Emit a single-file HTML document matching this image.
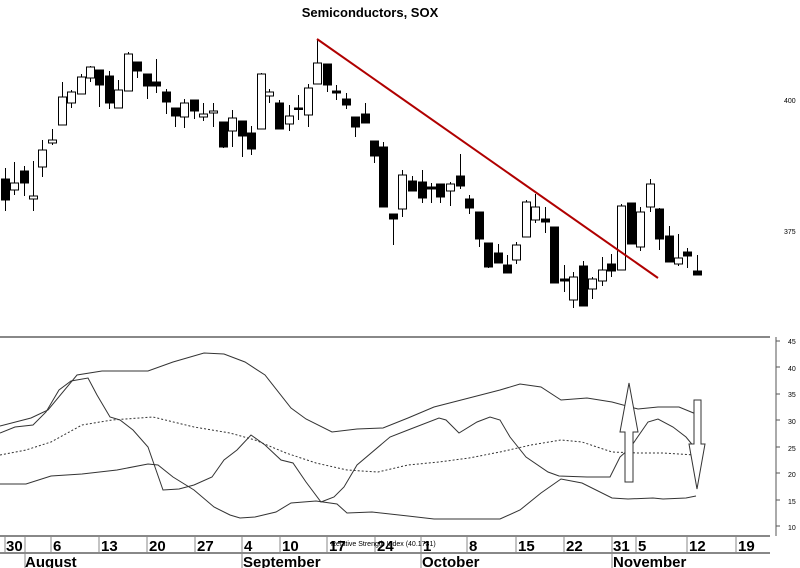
<!DOCTYPE html>
<html><head><meta charset="utf-8"><style>
html,body{margin:0;padding:0;background:#fff;width:800px;height:568px;overflow:hidden}
svg{display:block}
.d{font-family:"Liberation Sans Narrow","Liberation Sans",sans-serif;font-weight:bold;font-size:15px;fill:#000}
.m{font-family:"Liberation Sans","Liberation Sans Narrow",sans-serif;font-weight:bold;font-size:15px;fill:#000}
.s{font-family:"Liberation Sans",sans-serif;font-size:7px;fill:#000}
</style></head><body>
<svg width="800" height="568" viewBox="0 0 800 568" xmlns="http://www.w3.org/2000/svg">
<text x="370" y="17" text-anchor="middle" font-family="Liberation Sans,sans-serif" font-weight="bold" font-size="13">Semiconductors, SOX</text>
<text x="784" y="103" class="s" font-size="8">400</text>
<text x="784" y="234" class="s" font-size="8">375</text>
<g id="c" stroke="#000" stroke-width="1"></g>
<line x1="317" y1="39" x2="658" y2="278" stroke="#b00000" stroke-width="2"/>
<!-- lower panel -->
<line x1="0" y1="337" x2="770" y2="337" stroke="#888" stroke-width="2"/>
<line x1="776" y1="337" x2="776" y2="536" stroke="#555" stroke-width="1"/>
<g class="s">
<text x="788" y="344">45</text><text x="788" y="371">40</text><text x="788" y="397">35</text><text x="788" y="424">30</text><text x="788" y="451">25</text><text x="788" y="477">20</text><text x="788" y="504">15</text><text x="788" y="530">10</text>
</g>
<g stroke="#555" stroke-width="1">
<line x1="776" y1="341" x2="780" y2="341"/><line x1="776" y1="367" x2="780" y2="367"/><line x1="776" y1="394" x2="780" y2="394"/><line x1="776" y1="420" x2="780" y2="420"/><line x1="776" y1="447" x2="780" y2="447"/><line x1="776" y1="473" x2="780" y2="473"/><line x1="776" y1="500" x2="780" y2="500"/><line x1="776" y1="526" x2="780" y2="526"/>
</g>
<g fill="none" stroke="#333" stroke-width="1">
<polyline points="0,426 31,418 48,410 77,375 102,371 148,371 173,362 204,353 224,354 245,362 265,375 291,408 306,419 332,432 357,429 383,428 408,418 434,407 469,398 500,390 520,384 541,387 561,400 587,398 612,402 638,409 658,407 679,407 696,414"/>
<polyline points="0,433 15,427 33,425 46,412 59,390 71,381 88,378 97,395 110,417 120,420 133,430 148,447 163,490 179,489 194,485 212,477 224,460 237,450 251,435 265,445 281,460 293,463 306,482 321,502 334,497 344,487 357,465 390,437 408,430 439,418 446,420 459,433 477,422 490,417 500,420 510,437 526,457 548,472 559,476 587,477 610,477 620,457 630,448 648,422 658,419 673,427 686,437 695,448"/>
<polyline stroke-dasharray="2,2" points="0,455 26,450 51,442 82,425 112,420 153,417 194,427 230,433 255,440 286,453 316,463 347,470 378,472 408,465 439,462 469,458 500,452 531,445 561,440 582,442 612,452 638,453 663,453 696,455"/>
<polyline points="0,484 26,484 51,476 82,474 117,470 148,464 158,465 173,477 194,490 214,507 230,515 240,518 255,517 276,512 291,503 316,501 337,504 347,513 372,512 408,516 434,519 469,519 500,519 520,510 541,493 561,479 582,483 612,498 628,499 653,498 663,499 686,498 696,496"/>
</g>
<polygon points="625,482 633,482 633,432 638,432 629,383 620,432 625,432" fill="#fff" stroke="#333"/>
<polygon points="694,400 701,400 701,444 705,444 697,489 689,444 694,444" fill="#fff" stroke="#333"/>
<!-- date axis -->
<line x1="0" y1="536" x2="770" y2="536" stroke="#888" stroke-width="2"/>
<line x1="0" y1="553" x2="770" y2="553" stroke="#888" stroke-width="2"/>
<g stroke="#888" stroke-width="1">
<line x1="5" y1="536" x2="5" y2="553"/><line x1="25" y1="536" x2="25" y2="568"/><line x1="51" y1="536" x2="51" y2="553"/><line x1="99" y1="536" x2="99" y2="553"/><line x1="147" y1="536" x2="147" y2="553"/><line x1="195" y1="536" x2="195" y2="553"/><line x1="242" y1="536" x2="242" y2="568"/><line x1="280" y1="536" x2="280" y2="553"/><line x1="327" y1="536" x2="327" y2="553"/><line x1="375" y1="536" x2="375" y2="553"/><line x1="421" y1="536" x2="421" y2="568"/><line x1="467" y1="536" x2="467" y2="553"/><line x1="516" y1="536" x2="516" y2="553"/><line x1="564" y1="536" x2="564" y2="553"/><line x1="612" y1="536" x2="612" y2="568"/><line x1="636" y1="536" x2="636" y2="553"/><line x1="687" y1="536" x2="687" y2="553"/><line x1="736" y1="536" x2="736" y2="553"/>
</g>
<g class="d">
<text x="6" y="551">30</text><text x="53" y="551">6</text><text x="101" y="551">13</text><text x="149" y="551">20</text><text x="197" y="551">27</text><text x="244" y="551">4</text><text x="282" y="551">10</text><text x="329" y="551">17</text><text x="377" y="551">24</text><text x="423" y="551">1</text><text x="469" y="551">8</text><text x="518" y="551">15</text><text x="566" y="551">22</text><text x="613" y="551">31</text><text x="638" y="551">5</text><text x="689" y="551">12</text><text x="738" y="551">19</text>
</g>
<text x="331" y="546" class="s">Relative Strength Index (40.1731)</text>
<g class="m">
<text x="25" y="567">August</text><text x="243" y="567">September</text><text x="422" y="567">October</text><text x="613" y="567">November</text>
</g>
</svg>
<script>
var C=[[5,168,211,179,200,1],[14,162,195,183,190,0],[24,166,196,171,183,1],[33,161,211,196,199,0],[42,140,177,150,167,0],[52,129,145,140,143,0],[62,82,125,97,125,0],[71,90,108,92,103,0],[81,74,94,77,94,0],[90,66,82,67,78,0],[99,70,107,70,85,1],[109,71,109,76,103,1],[118,80,108,90,108,0],[128,52,91,54,91,0],[137,62,78,62,71,1],[147,74,99,74,86,1],[156,59,93,82,86,1],[166,89,114,92,102,1],[175,108,127,108,116,1],[184,99,128,103,117,0],[194,100,119,100,111,1],[203,103,121,114,117,0],[213,103,127,111,113,0],[223,122,148,122,147,1],[232,110,147,118,131,0],[242,121,157,121,136,1],[251,126,155,133,149,1],[261,73,129,74,129,0],[269,89,103,92,96,0],[279,100,129,103,129,1],[289,105,131,116,124,0],[298,95,120,108,109,1],[308,84,127,88,115,0],[317,39,84,63,84,0],[327,64,92,64,85,1],[336,85,100,91,93,1],[346,93,109,99,105,1],[355,117,137,117,127,1],[365,103,123,114,123,1],[374,141,163,141,156,1],[383,142,207,147,207,1],[393,214,245,214,219,1],[402,170,217,175,209,0],[412,176,191,181,191,1],[422,170,203,182,198,1],[431,183,203,187,189,1],[440,184,203,184,197,1],[450,182,206,184,191,0],[460,154,189,176,186,1],[469,195,214,199,208,1],[479,212,247,212,239,1],[488,243,268,243,267,1],[498,244,263,253,263,1],[507,255,273,265,273,1],[516,242,264,245,260,0],[526,200,237,202,237,0],[535,194,223,207,220,0],[545,207,233,219,222,1],[554,227,283,227,283,1],[564,265,292,279,281,1],[573,272,308,277,300,0],[583,261,306,266,306,1],[592,277,299,279,289,0],[602,257,286,270,281,0],[611,254,277,264,271,1],[621,204,270,206,270,0],[631,203,244,203,244,1],[640,207,251,212,247,0],[650,179,212,184,207,0],[659,208,250,209,239,1],[669,226,262,236,262,1],[678,234,266,258,264,0],[687,248,268,252,256,1],[697,255,275,271,275,1]];
var g=document.getElementById('c'),s='';
C.forEach(function(c){var x=c[0];s+='<line x1="'+(x+.5)+'" y1="'+c[1]+'" x2="'+(x+.5)+'" y2="'+c[2]+'"/>';
var h=Math.max(c[4]-c[3],1.5);s+='<rect x="'+(x-3.5)+'" y="'+c[3]+'" width="8" height="'+h+'" fill="'+(c[5]?'#000':'#fff')+'"/>';});
g.innerHTML=s;
</script>
</body></html>
